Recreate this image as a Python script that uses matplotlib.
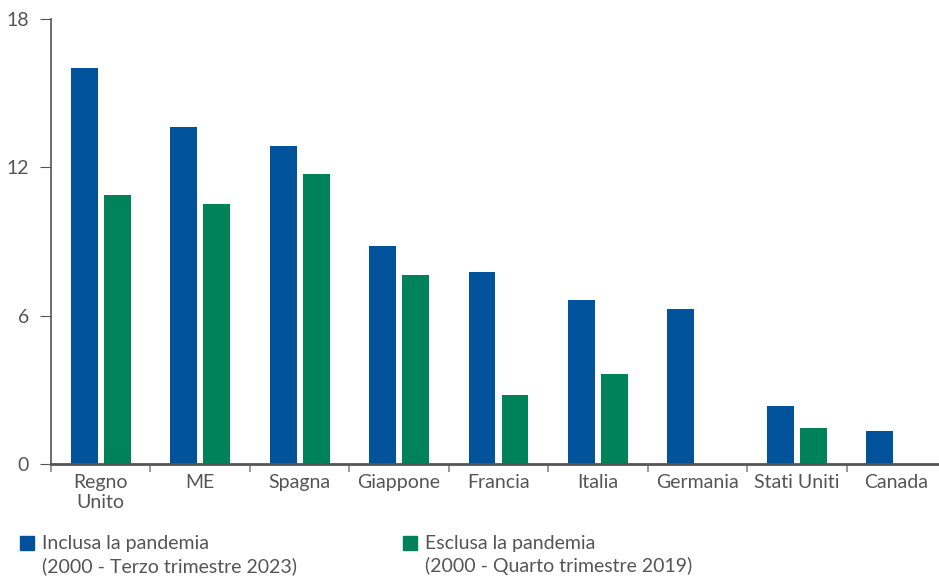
import matplotlib.pyplot as plt
import numpy as np
from matplotlib.patches import Rectangle

paesi = ["Regno\nUnito", "ME", "Spagna", "Giappone", "Francia",
         "Italia", "Germania", "Stati Uniti", "Canada"]
inclusa = [16.0, 13.65, 12.85, 8.8, 7.75, 6.65, 6.25, 2.35, 1.35]
esclusa = [10.9, 10.5, 11.75, 7.65, 2.8, 3.65, np.nan, 1.45, np.nan]
y_ticks = [0, 6, 12, 18]

blu = "#00529b"
verde = "#008259"
grigio = "#555555"

plt.rcParams["font.family"] = ["Lato", "DejaVu Sans"]

fig = plt.figure(figsize=(9.39, 5.76), dpi=100)
ax = fig.add_axes([51 / 939, 112 / 576, 895 / 939, 445 / 576])

x = np.arange(len(paesi))
w = 0.27
ax.bar(x - 0.166, inclusa, w, color=blu)
ax.bar(x + 0.166, esclusa, w, color=verde)

ax.set_xlim(-0.5, len(paesi) - 0.5)
ax.set_ylim(0, 18)
ax.set_yticks(y_ticks)
ax.tick_params(axis="y", direction="out", length=8, color=grigio,
               labelcolor=grigio, labelsize=14, pad=8)

ax.set_xticks(x)
ax.set_xticklabels(paesi)
ax.tick_params(axis="x", length=0, labelcolor=grigio, labelsize=14, pad=7)
ax.set_xticks(np.arange(len(paesi) + 1) - 0.5, minor=True)
ax.tick_params(axis="x", which="minor", length=6, color="#888888", width=1.2)

for s in ["top", "right"]:
    ax.spines[s].set_visible(False)
ax.spines["left"].set_color(grigio)
ax.spines["left"].set_linewidth(1.2)
ax.spines["bottom"].set_color(grigio)
ax.spines["bottom"].set_linewidth(2)
ax.spines["bottom"].set_zorder(5)

# legenda
voci = [("Inclusa la pandemia\n(2000 - Terzo trimestre 2023)", blu, 20),
        ("Esclusa la pandemia\n(2000 - Quarto trimestre 2019)", verde, 403)]
for testo, col, px in voci:
    fig.patches.append(Rectangle((px / 939, (576 - 550) / 576), 14 / 939, 14 / 576,
                                 transform=fig.transFigure, color=col))
    fig.text((px + 22) / 939, (576 - 535) / 576, testo, color=grigio,
             fontsize=14, va="top", ha="left", linespacing=1.35)

fig.savefig("out.png", dpi=100)
